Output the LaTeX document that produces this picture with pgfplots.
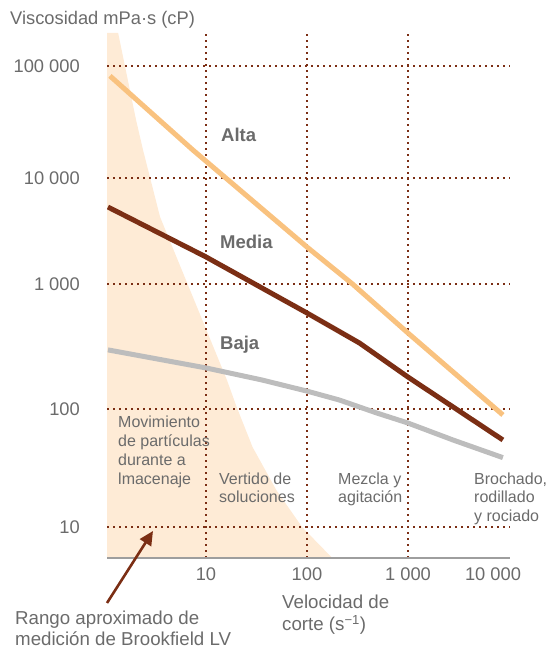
\documentclass[border=0pt]{standalone}
\usepackage{fontspec}
\setmainfont{Liberation Sans}
\usepackage{pgfplots}
\pgfplotsset{compat=1.18}
\usetikzlibrary{arrows.meta}

\definecolor{peach}{HTML}{FEEBD6}
\definecolor{alta}{HTML}{F9C27F}
\definecolor{media}{HTML}{7B2E14}
\definecolor{baja}{HTML}{BDBDBD}
\definecolor{txt}{HTML}{6B6B6B}
\definecolor{gridc}{HTML}{7B2E14}

% viscosity axis: logarithmic, each decade drawn with its own height
\newcommand\viscpos[1]{\fpeval{
  (ln(#1)/ln(10) < 2) ? (31 + (ln(#1)/ln(10) - 1)*118) :
  ((ln(#1)/ln(10) < 3) ? (149 + (ln(#1)/ln(10) - 2)*125) :
  ((ln(#1)/ln(10) < 4) ? (274 + (ln(#1)/ln(10) - 3)*106) :
  (380 + (ln(#1)/ln(10) - 4)*112)))}}
\newcommand\viscval{}

\begin{document}
\begin{tikzpicture}
\begin{axis}[
  at={(107pt,95pt)}, anchor=south west,
  scale only axis, width=403pt, height=525pt,
  set layers,
  xmode=log,
  y coord trafo/.code={%
    \pgfmathfloatparsenumber{#1}%
    \pgfmathfloattosci{\pgfmathresult}%
    \let\viscval\pgfmathresult
    \edef\pgfmathresult{\viscpos{\viscval}}},
  xmin=1.047, xmax=10230, ymin=5.46, ymax=197000,
  axis x line*=bottom, axis y line*=left,
  x axis line style={draw=black!38, line width=1.1pt, -},
  y axis line style={draw=none},
  tick style={draw=none},
  major tick length=0pt, minor tick length=0pt,
  xtick={10,100,1000}, xticklabels={10,100,1 000},
  minor xtick={}, minor ytick={},
  extra x ticks={6950}, extra x tick labels={10 000},
  extra x tick style={grid=none},
  ytick={10,100,1000,10000,100000},
  yticklabels={10,100,1 000,10 000,100 000},
  grid=major,
  major grid style={gridc, line width=1.8pt, dash pattern=on 1.8pt off 4.2pt},
  ticklabel style={font=\fontsize{18.3}{21}\selectfont, text=txt, inner sep=0pt},
  yticklabel style={anchor=east, xshift=-27pt},
  xticklabel style={anchor=north, yshift=-9.5pt},
]
% range of the Brookfield LV viscometer
\addplot[fill=peach, draw=none, on layer=axis background] coordinates {
  (1.047,5.46) (1.047,197000) (1.35,197000) (2.03,33000) (2.38,17800)
  (3.51,4290) (6.95,895) (16.1,171) (20.1,104) (28.9,47.6) (49.6,20.6)
  (89.3,10) (178,5.46)
};
% high viscosity
\addplot[alta, line width=5pt, line join=round] coordinates {
  (1.12,81500) (7.4,17800) (15.7,10000) (100,2230) (282,1000) (1000,405) (8700,89)
};
% medium viscosity
\addplot[media, line width=5pt, line join=round] coordinates {
  (1.07,5320) (10,1800) (100,586) (331,337) (1000,180) (8700,54.6)
};
% low viscosity
\addplot[baja, line width=5pt, line join=round] coordinates {
  (1.07,297) (10,213) (35.4,171) (100,139) (209,118) (490,92.5) (1000,76) (2790,54.6) (8700,38.7)
};
\end{axis}

\begin{scope}[x=1pt, y=1pt, every node/.style={inner sep=0pt, text=txt, anchor=base west}]
  \node[font=\fontsize{18.3}{21}\selectfont] at (10,628) {Viscosidad mPa·s (cP)};
  % series names
  \node[font=\fontsize{18.5}{21}\selectfont\bfseries] at (221,511) {Alta};
  \node[font=\fontsize{18.5}{21}\selectfont\bfseries] at (220,404) {Media};
  \node[font=\fontsize{18.5}{21}\selectfont\bfseries] at (220,303) {Baja};
  % application zones
  \begin{scope}[font=\fontsize{16}{19}\selectfont]
    \node at (118,225) {Movimiento};
    \node at (118,206.3) {de partículas};
    \node at (118,187.5) {durante a};
    \node at (118,168.8) {lmacenaje};
    \node at (219,168.8) {Vertido de};
    \node at (219,150) {soluciones};
    \node at (338,168.8) {Mezcla y};
    \node at (338,150) {agitación};
    \node at (474,168.8) {Brochado,};
    \node at (474,150) {rodillado};
    \node at (474,131) {y rociado};
  \end{scope}
  % axis title and note
  \begin{scope}[font=\fontsize{18.7}{21}\selectfont]
    \node at (282,44) {Velocidad de};
    \node at (282,22) {corte (s\textsuperscript{−1})};
    \node at (15,28) {Rango aproximado de};
    \node at (15,8) {medición de Brookfield LV};
  \end{scope}
  \draw[media, line width=2.6pt, -{Triangle[length=14pt,width=13pt]}] (107,50) -- (153,122);
  \pgfresetboundingbox
  \useasboundingbox (0,0) rectangle (550,653);
\end{scope}
\end{tikzpicture}
\end{document}
